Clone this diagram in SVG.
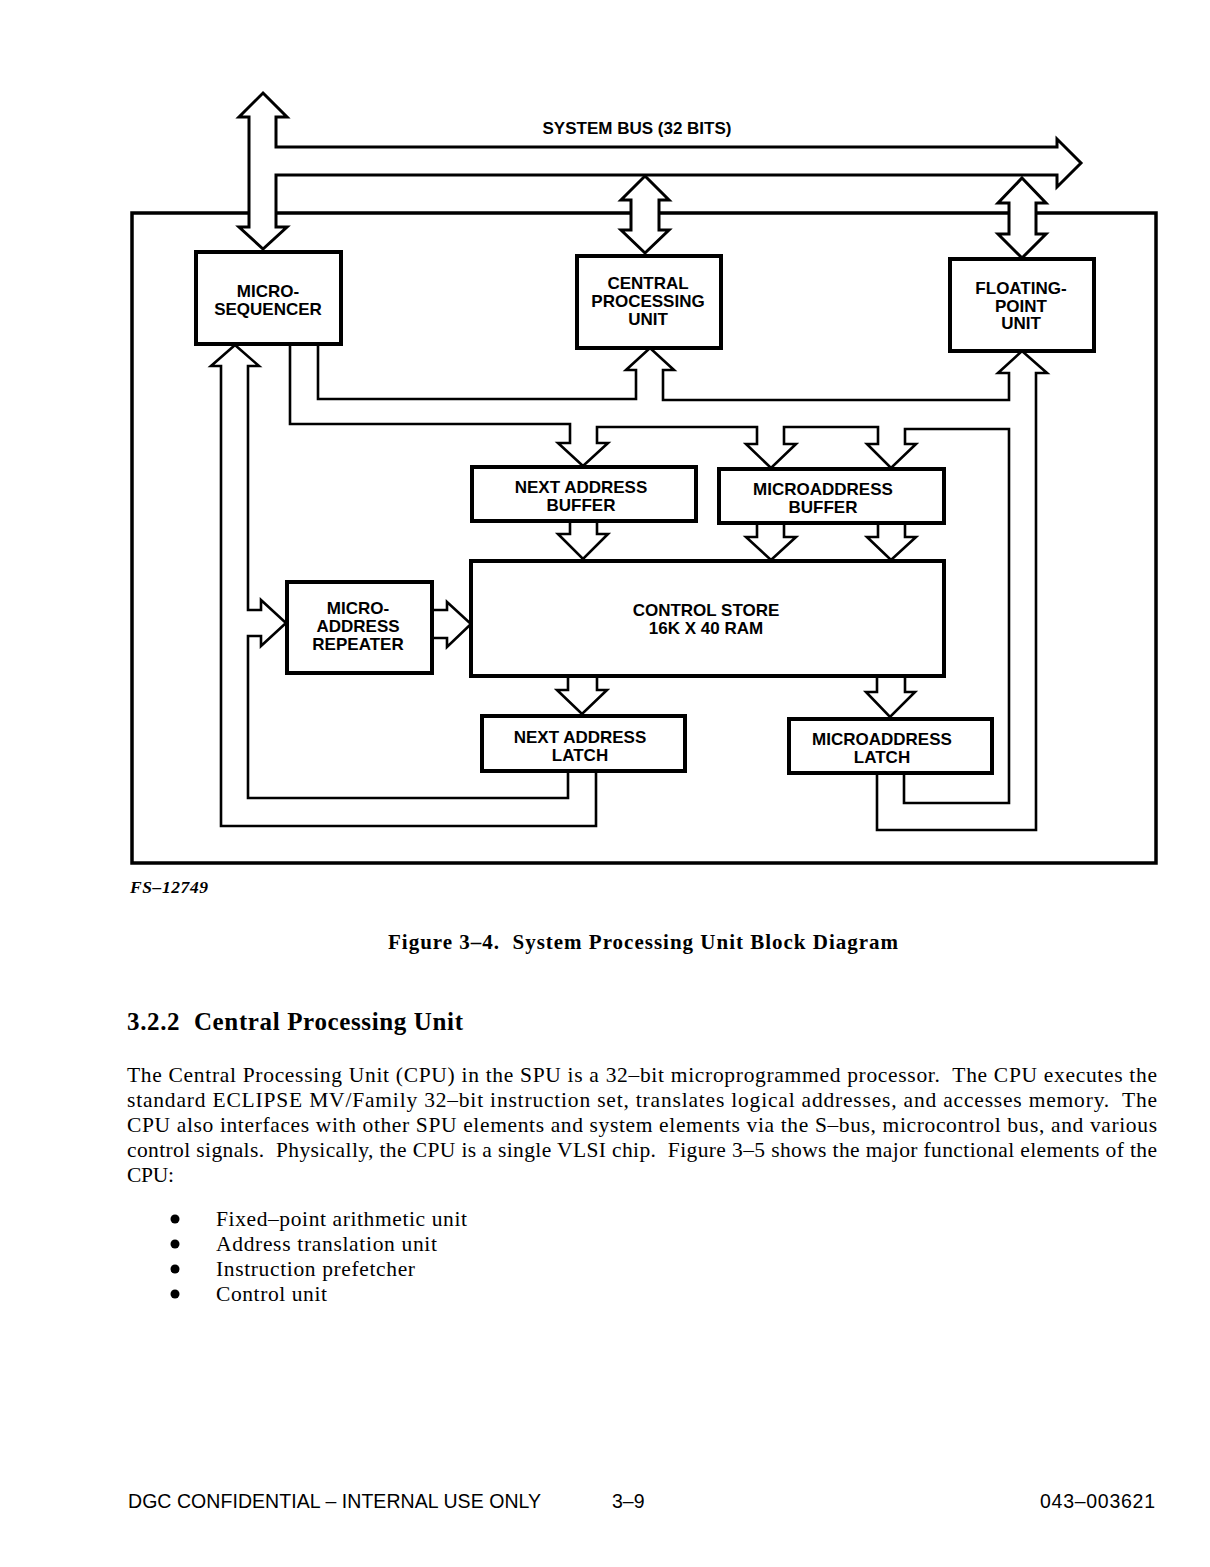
<svg xmlns="http://www.w3.org/2000/svg" width="1210" height="1567" viewBox="0 0 1210 1567">
<style>
.box{fill:#fff;stroke:#000;stroke-width:4}
.outer{fill:none;stroke:#000;stroke-width:3.5}
.pipe{fill:none;stroke:#000;stroke-width:2.6;stroke-linejoin:miter}
.bus{fill:#fff;stroke:#000;stroke-width:3;stroke-linejoin:miter}
.lbl{font-family:"Liberation Sans",Arial,sans-serif;font-weight:bold;font-size:17px;text-anchor:middle;fill:#000}
.body{font-family:"Liberation Serif","Times New Roman",serif;font-size:21.5px;fill:#000;white-space:pre}
.foot{font-family:"Liberation Sans",Arial,sans-serif;font-size:19.5px;fill:#000;white-space:pre}
.pre{white-space:pre}
</style>
<rect x="0" y="0" width="1210" height="1567" fill="#fff"/>

<g id="frame">
<rect class="outer" x="132" y="213" width="1024" height="650"/>
</g>

<g id="system-bus">
<path class="bus" d="M263,93 L287,117 L276,117 L276,147 L1057,147 L1057,139 L1081,163 L1057,187 L1057,175 L276,175 L276,227 L287,227 L263,249 L239,227 L249,227 L249,117 L239,117 Z"/>
<text class="lbl" x="637" y="134" font-size="16">SYSTEM BUS (32 BITS)</text>
</g>

<g id="connectors">
<path class="bus" d="M645,176 L669,200 L659,200 L659,230 L669,230 L645,253 L621,230 L631,230 L631,200 L621,200 Z"/>
<path class="bus" d="M1022,178 L1046,203 L1036,203 L1036,234 L1046,234 L1022,258 L998,234 L1009,234 L1009,203 L998,203 Z"/>
<path class="pipe" d="M568,771 L568,798 L248,798 L248,636 L261,636 L261,646 L286,623 L261,600 L261,610 L248,610 L248,366 L259,366 L235,345 L211,366 L221,366 L221,826 L596,826 L596,771"/>
<path class="pipe" d="M290,344 L290,424 L570,424 L570,443 L558,443 L583,466 L608,443 L597,443 L597,427 L757,427 L757,444 L746,444 L771,468 L796,444 L784,444 L784,427 L878,427 L878,444 L867,444 L891,468 L916,444 L905,444 L905,429 L1009,429 L1009,803 L904,803 L904,773"/>
<path class="pipe" d="M318,344 L318,399 L636,399 L636,370 L626,370 L650,348 L674,370 L663,370 L663,400 L1009,400 L1009,373 L998,373 L1022,351 L1047,373 L1036,373 L1036,830 L877,830 L877,773"/>
<path class="pipe" d="M432,610 L447,610 L447,602 L471,624 L447,647 L447,638 L432,638"/>
<path class="pipe" d="M570,521 L570,534 L558,534 L583,559 L608,534 L597,534 L597,521"/>
<path class="pipe" d="M757,523 L757,537 L746,537 L771,560 L796,537 L784,537 L784,523"/>
<path class="pipe" d="M878,523 L878,537 L867,537 L891,560 L916,537 L905,537 L905,523"/>
<path class="pipe" d="M568,676 L568,690 L557,690 L582,714 L607,690 L597,690 L597,676"/>
<path class="pipe" d="M877,676 L877,692 L866,692 L890,717 L915,692 L905,692 L905,676"/>
</g>

<g id="microsequencer">
<rect class="box" x="196" y="252" width="145" height="92"/>
<text class="lbl" x="268" y="297">MICRO-</text>
<text class="lbl" x="268" y="315">SEQUENCER</text>
</g>

<g id="cpu">
<rect class="box" x="577" y="256" width="144" height="92"/>
<text class="lbl" x="648" y="289">CENTRAL</text>
<text class="lbl" x="648" y="307">PROCESSING</text>
<text class="lbl" x="648" y="325">UNIT</text>
</g>

<g id="fpu">
<rect class="box" x="950" y="259" width="144" height="92"/>
<text class="lbl" x="1021" y="294">FLOATING-</text>
<text class="lbl" x="1021" y="312">POINT</text>
<text class="lbl" x="1021" y="329">UNIT</text>
</g>

<g id="next-address-buffer">
<rect class="box" x="472" y="467" width="224" height="54"/>
<text class="lbl" x="581" y="493">NEXT ADDRESS</text>
<text class="lbl" x="581" y="511">BUFFER</text>
</g>

<g id="microaddress-buffer">
<rect class="box" x="719" y="469" width="225" height="54"/>
<text class="lbl" x="823" y="495">MICROADDRESS</text>
<text class="lbl" x="823" y="513">BUFFER</text>
</g>

<g id="control-store">
<rect class="box" x="471" y="561" width="473" height="115"/>
<text class="lbl" x="706" y="616">CONTROL STORE</text>
<text class="lbl" x="706" y="634">16K X 40 RAM</text>
</g>

<g id="microaddress-repeater">
<rect class="box" x="287" y="582" width="145" height="91"/>
<text class="lbl" x="358" y="614">MICRO-</text>
<text class="lbl" x="358" y="632">ADDRESS</text>
<text class="lbl" x="358" y="650">REPEATER</text>
</g>

<g id="next-address-latch">
<rect class="box" x="482" y="716" width="203" height="55"/>
<text class="lbl" x="580" y="743">NEXT ADDRESS</text>
<text class="lbl" x="580" y="761">LATCH</text>
</g>

<g id="microaddress-latch">
<rect class="box" x="789" y="719" width="203" height="54"/>
<text class="lbl" x="882" y="745">MICROADDRESS</text>
<text class="lbl" x="882" y="763">LATCH</text>
</g>

<g id="page-text">
<text x="130" y="893" font-family="'Liberation Serif','Times New Roman',serif" font-style="italic" font-weight="bold" font-size="17.5" textLength="78" lengthAdjust="spacing">FS–12749</text>
<text class="pre" x="388" y="949" font-family="'Liberation Serif','Times New Roman',serif" font-weight="bold" font-size="21" textLength="510" lengthAdjust="spacing">Figure 3–4.  System Processing Unit Block Diagram</text>
<text class="pre" x="127" y="1030" font-family="'Liberation Serif','Times New Roman',serif" font-weight="bold" font-size="25" textLength="336" lengthAdjust="spacing">3.2.2  Central Processing Unit</text>
<text class="body" x="127" y="1082" textLength="1030" lengthAdjust="spacing">The Central Processing Unit (CPU) in the SPU is a 32–bit microprogrammed processor.  The CPU executes the</text>
<text class="body" x="127" y="1107" textLength="1030" lengthAdjust="spacing">standard ECLIPSE MV/Family 32–bit instruction set, translates logical addresses, and accesses memory.  The</text>
<text class="body" x="127" y="1132" textLength="1030" lengthAdjust="spacing">CPU also interfaces with other SPU elements and system elements via the S–bus, microcontrol bus, and various</text>
<text class="body" x="127" y="1157" textLength="1030" lengthAdjust="spacing">control signals.  Physically, the CPU is a single VLSI chip.  Figure 3–5 shows the major functional elements of the</text>
<text class="body" x="127" y="1182" textLength="47" lengthAdjust="spacing">CPU:</text>
<circle cx="175" cy="1219" r="4.5" fill="#000"/>
<circle cx="175" cy="1244" r="4.5" fill="#000"/>
<circle cx="175" cy="1269" r="4.5" fill="#000"/>
<circle cx="175" cy="1294" r="4.5" fill="#000"/>
<text class="body" x="216" y="1226" textLength="251" lengthAdjust="spacing">Fixed–point arithmetic unit</text>
<text class="body" x="216" y="1251" textLength="221" lengthAdjust="spacing">Address translation unit</text>
<text class="body" x="216" y="1276" textLength="199" lengthAdjust="spacing">Instruction prefetcher</text>
<text class="body" x="216" y="1301" textLength="111" lengthAdjust="spacing">Control unit</text>
<text class="foot" x="128" y="1508" textLength="413" lengthAdjust="spacing">DGC CONFIDENTIAL – INTERNAL USE ONLY</text>
<text class="foot" x="612" y="1508" font-size="21">3–9</text>
<text class="foot" x="1040" y="1508" textLength="115" lengthAdjust="spacing">043–003621</text>
</g>
</svg>
